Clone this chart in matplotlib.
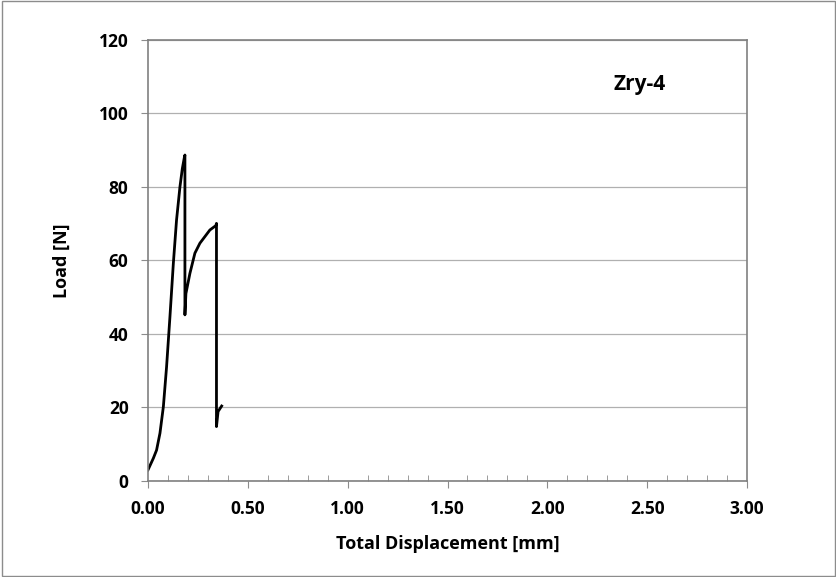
import matplotlib.pyplot as plt
from matplotlib.patches import Rectangle

# load-displacement curve
disp = [0.0, 0.027, 0.043, 0.06, 0.077, 0.093, 0.11, 0.127, 0.143, 0.16, 0.172, 0.182, 0.185,
        0.185, 0.19, 0.21, 0.235, 0.26, 0.285, 0.31, 0.34, 0.343, 0.343, 0.351, 0.369]
load = [3.0, 6.2, 8.4, 13.0, 20.2, 31.0, 44.7, 59.2, 71.0, 80.0, 85.0, 88.0, 88.7,
        45.2, 51.0, 56.5, 62.0, 64.7, 66.5, 68.3, 69.5, 70.1, 14.8, 18.9, 20.4]

xticks = [0.0, 0.5, 1.0, 1.5, 2.0, 2.5, 3.0]
yticks = [0, 20, 40, 60, 80, 100, 120]

plt.rcParams['font.family'] = ['Open Sans', 'DejaVu Sans']
plt.rcParams['font.weight'] = 'bold'

fig = plt.figure(figsize=(8.37, 5.77), dpi=100)
fig.patches.append(Rectangle((0.002, 0.002), 0.996, 0.996, transform=fig.transFigure,
                             fill=False, edgecolor='#8c8c8c', linewidth=1))
ax = fig.add_axes([0.1768, 0.1664, 0.7157, 0.7643])

ax.plot(disp, load, color='black', linewidth=2)

ax.set_xlim(0, 3)
ax.set_ylim(0, 120)
ax.set_xticks(xticks)
ax.set_xticklabels(['%.2f' % v for v in xticks])
ax.set_yticks(yticks)
ax.set_xticks([i * 0.1 for i in range(31)], minor=True)
ax.tick_params(axis='x', which='minor', direction='in', length=4, color='#8c8c8c')
ax.tick_params(axis='both', which='major', direction='out', length=5, color='#8c8c8c',
               labelsize=12.5, pad=9)
ax.grid(axis='y', color='#b0b0b0', linewidth=0.9)
ax.set_axisbelow(True)
for s in ax.spines.values():
    s.set_color('#808080')
    s.set_linewidth(1.2)

ax.set_xlabel('Total Displacement [mm]', fontsize=13, fontweight='bold', labelpad=12)
ax.set_ylabel('Load [N]', fontsize=13, fontweight='bold', labelpad=20)
ax.text(2.46, 108, 'Zry-4', fontsize=15, fontweight='bold', ha='center', va='center')

fig.savefig('out.png', dpi=100)
